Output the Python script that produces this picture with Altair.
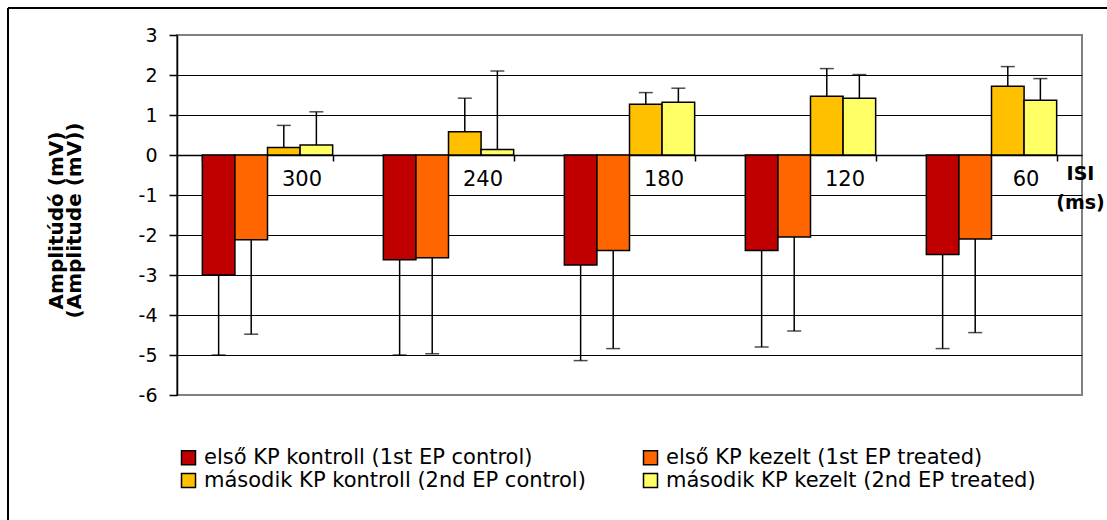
import altair as alt
import pandas as pd

isi = ["300", "240", "180", "120", "60"]
series = [
    "első KP kontroll (1st EP control)",
    "első KP kezelt (1st EP treated)",
    "második KP kontroll (2nd EP control)",
    "második KP kezelt (2nd EP treated)",
]
colors = ["#C00000", "#FF6600", "#FFC000", "#FFFF66"]

kontroll1 = [-3.00, -2.62, -2.75, -2.39, -2.49]
kezelt1 = [-2.12, -2.57, -2.39, -2.05, -2.10]
kontroll2 = [0.19, 0.58, 1.27, 1.47, 1.72]
kezelt2 = [0.25, 0.14, 1.32, 1.42, 1.37]

err_kontroll1 = [2.00, 2.38, 2.39, 2.41, 2.35]
err_kezelt1 = [2.36, 2.40, 2.45, 2.35, 2.34]
err_kontroll2 = [0.55, 0.84, 0.29, 0.69, 0.49]
err_kezelt2 = [0.83, 1.96, 0.35, 0.59, 0.54]

y_ticks = [-6, -5, -4, -3, -2, -1, 0, 1, 2, 3]

rows = []
for s, vals, errs in zip(series,
                         [kontroll1, kezelt1, kontroll2, kezelt2],
                         [err_kontroll1, err_kezelt1, err_kontroll2, err_kezelt2]):
    for c, v, e in zip(isi, vals, errs):
        rows.append({"isi": c, "series": s, "value": v,
                     "end": v + e if v >= 0 else v - e})
df = pd.DataFrame(rows)

FONT = "DejaVu Sans"

x_enc = alt.X(
    "isi:N", sort=isi,
    scale=alt.Scale(paddingInner=0.28, paddingOuter=0.14),
    axis=alt.Axis(
        title=["ISI", "(ms)"], orient="bottom", offset=-240,
        domainColor="black", domainWidth=1.5,
        tickBand="extent", tickSize=6, tickColor="black", tickWidth=1.5,
        labelAngle=0, labelFont=FONT, labelFontSize=21, labelColor="black",
        labelOffset=34, labelPadding=7,
        titleFont=FONT, titleFontSize=19, titleFontWeight="bold", titleColor="black",
        titleX=903, titleY=9, titleAlign="center", titleBaseline="top",
        titleLineHeight=29, grid=False,
    ),
)
xoff_enc = alt.XOffset("series:N", sort=series,
                       scale=alt.Scale(paddingInner=0, paddingOuter=0))

y_scale = alt.Scale(domain=[-6, 3], nice=False, zero=True)
y_axis = alt.Axis(
    values=y_ticks, title=["Amplitúdó (mV)", "(Amplitude (mV))"],
    labelExpr="toString(datum.value)", labelOverlap=False,
    domainColor="black", domainWidth=1.5,
    tickColor="black", tickWidth=1.5, tickSize=8,
    labelFont=FONT, labelFontSize=19, labelColor="black", labelPadding=12,
    grid=True,
    gridColor={"condition": {"test": "datum.value === 3 || datum.value === -6",
                             "value": "#808080"}, "value": "black"},
    gridWidth=1.2, gridOpacity=1,
    titleFont=FONT, titleFontSize=20, titleFontWeight="bold", titleColor="black",
    titleLineHeight=18, titleX=-121, titleY=185, titleAngle=270,
    titleAlign="center", titleBaseline="middle",
)

base = alt.Chart(df).encode(x=x_enc, xOffset=xoff_enc)

bars = base.mark_bar(stroke="black", strokeWidth=1.5).encode(
    y=alt.Y("value:Q", scale=y_scale, axis=y_axis),
    color=alt.Color(
        "series:N", sort=series,
        scale=alt.Scale(domain=series, range=colors),
        legend=alt.Legend(
            title=None, orient="none", legendX=1, legendY=412,
            direction="horizontal",
            columns=2, columnPadding=54, rowPadding=1,
            symbolType="square", symbolSize=196,
            symbolStrokeColor="black", symbolStrokeWidth=1.5, symbolOpacity=1,
            labelFont=FONT, labelFontSize=21, labelColor="black",
            labelLimit=700, labelOffset=5, padding=0,
        ),
    ),
)

rules = base.mark_rule(color="black", strokeWidth=1.5).encode(
    y=alt.Y("value:Q", scale=y_scale, axis=y_axis), y2="end:Q"
)
caps = base.mark_tick(color="black", thickness=1.5, size=14).encode(
    y=alt.Y("end:Q", scale=y_scale, axis=y_axis)
)

frame_data = alt.Data(values=[{"k": 1}])
top_border = alt.Chart(frame_data).mark_rule(color="black", strokeWidth=2).encode(
    x=alt.value(-169), x2=alt.value(930), y=alt.value(-27)
)
left_border = alt.Chart(frame_data).mark_rule(color="black", strokeWidth=2).encode(
    x=alt.value(-169), y=alt.value(-27), y2=alt.value(485)
)

chart = alt.layer(bars, rules, caps, top_border, left_border).properties(
    width=905, height=360,
    autosize=alt.AutoSizeParams(type="none"),
    padding={"left": 177, "top": 35, "right": 25, "bottom": 125},
    background="white",
).configure_view(stroke="#808080", strokeWidth=2)

chart.save("out.html", embed_options={"renderer": "svg", "actions": False})
